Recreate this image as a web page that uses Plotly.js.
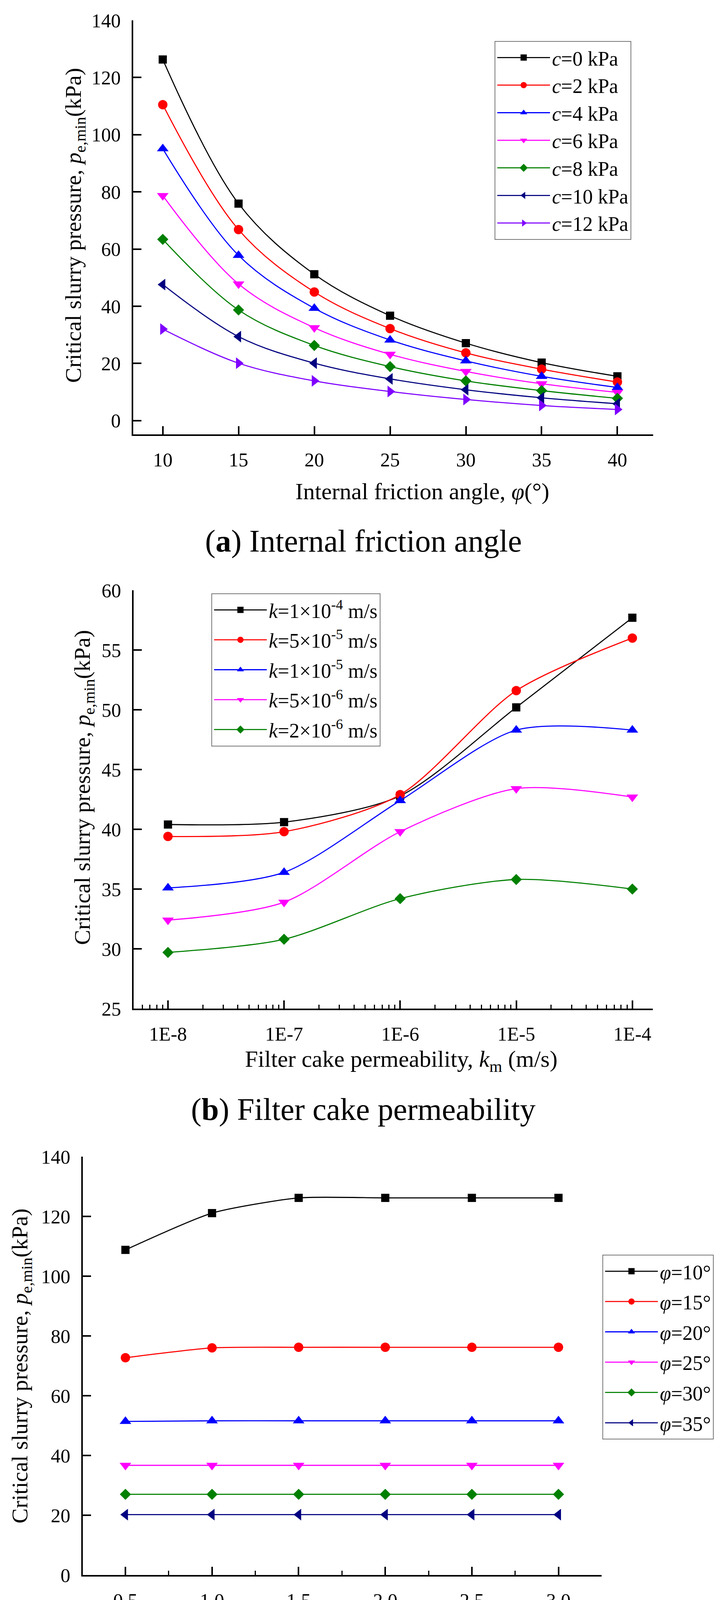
<!DOCTYPE html>
<html>
<head>
<meta charset="utf-8">
<script src="https://cdn.plot.ly/plotly-3.0.1.min.js"></script>
<style>
  html, body { margin: 0; padding: 0; background: #fff; overflow: hidden; }
  #chart { width: 1861px; height: 4356px; }
</style>
</head>
<body>
<div id="chart"></div>
<script>
// ---- data ----
// (a) friction angle vs critical pressure, one array per cohesion value
const phiAngles = [10, 15, 20, 25, 30, 35, 40];
const cNames = ["<i>c</i>=0 kPa", "<i>c</i>=2 kPa", "<i>c</i>=4 kPa", "<i>c</i>=6 kPa",
                "<i>c</i>=8 kPa", "<i>c</i>=10 kPa", "<i>c</i>=12 kPa"];
const pC0  = [126.3, 75.9, 51.2, 36.7, 27.1, 20.3, 15.5];
const pC2  = [110.5, 66.8, 45.0, 32.2, 23.7, 18.0, 13.5];
const pC4  = [95.1, 57.8, 39.3, 28.2, 20.9, 15.5, 11.6];
const pC6  = [78.7, 47.8, 32.5, 23.2, 17.2, 12.9, 9.9];
const pC8  = [63.4, 38.7, 26.3, 18.9, 13.9, 10.5, 7.8];
const pC10 = [47.6, 29.4, 20.1, 14.6, 10.8, 8.0, 5.9];
const pC12 = [32.0, 20.1, 13.9, 10.2, 7.4, 5.3, 3.9];

// (b) filter cake permeability
const kmVals = [1e-8, 1e-7, 1e-6, 1e-5, 1e-4];
const kmTicks = ["1E-8", "1E-7", "1E-6", "1E-5", "1E-4"];
const kNames = ["<i>k</i>=1×10<sup>-4</sup> m/s", "<i>k</i>=5×10<sup>-5</sup> m/s",
                "<i>k</i>=1×10<sup>-5</sup> m/s", "<i>k</i>=5×10<sup>-6</sup> m/s",
                "<i>k</i>=2×10<sup>-6</sup> m/s"];
const pK1e4 = [40.4, 40.6, 42.8, 50.2, 57.7];
const pK5e5 = [39.4, 39.8, 42.9, 51.6, 56.0];
const pK1e5 = [35.1, 36.4, 42.4, 48.3, 48.3];
const pK5e6 = [32.4, 33.9, 39.8, 43.4, 42.7];
const pK2e6 = [29.7, 30.8, 34.2, 35.8, 35.0];

// (c) cover depth ratio
const cdVals = [0.5, 1.0, 1.5, 2.0, 2.5, 3.0];
const cdTicks = ["0.5", "1.0", "1.5", "2.0", "2.5", "3.0"];
const phiNames = ["<i>φ</i>=10°", "<i>φ</i>=15°", "<i>φ</i>=20°",
                  "<i>φ</i>=25°", "<i>φ</i>=30°", "<i>φ</i>=35°"];
const pPhi10 = [108.8, 121.1, 126.2, 126.2, 126.2, 126.2];
const pPhi15 = [72.7, 76.0, 76.2, 76.2, 76.2, 76.2];
const pPhi20 = [51.4, 51.6, 51.6, 51.6, 51.6, 51.6];
const pPhi25 = [36.7, 36.7, 36.7, 36.7, 36.7, 36.7];
const pPhi30 = [27.0, 27.0, 27.0, 27.0, 27.0, 27.0];
const pPhi35 = [20.2, 20.2, 20.2, 20.2, 20.2, 20.2];

// ---- styling ----
const W = 1861, H = 4356;
const fx = (px) => px / W;
const fy = (py) => 1 - py / H;

const colors = ["#000000", "#ff0000", "#0000ff", "#ff00ff", "#008000", "#000080", "#7f00ff"];
const symbols = ["square", "circle", "triangle-up", "triangle-down", "diamond", "triangle-left", "triangle-right"];
const sizes = [21, 24, 26, 26, 22, 26, 26];
const serif = "Liberation Serif, Times New Roman, serif";

const makeTrace = (x, y, i, name, ax, leg, smooth) => {
    return {
        x: x, y: y, name: name,
        type: "scatter", mode: "lines+markers",
        line: {color: colors[i], width: 2.8, shape: "spline", smoothing: smooth},
        marker: {color: colors[i], symbol: symbols[i], size: sizes[i]},
        xaxis: "x" + ax, yaxis: "y" + ax,
        legend: leg, legendgroup: leg + "-" + i
    };
};

const aSeries = [pC0, pC2, pC4, pC6, pC8, pC10, pC12];
const bSeries = [pK1e4, pK5e5, pK1e5, pK5e6, pK2e6];
const cSeries = [pPhi10, pPhi15, pPhi20, pPhi25, pPhi30, pPhi35];

let traces = [];
aSeries.forEach((s, i) => traces.push(makeTrace(phiAngles, s, i, cNames[i], "", "legend", 1)));
bSeries.forEach((s, i) => traces.push(makeTrace(kmVals, s, i, kNames[i], "2", "legend2", 0.8)));
cSeries.forEach((s, i) => traces.push(makeTrace(cdVals, s, i, phiNames[i], "3", "legend3", 0.6)));

const axisBase = {
    showline: true, linecolor: "#000", linewidth: 4,
    ticks: "inside", ticklen: 21, tickwidth: 4, tickcolor: "#000",
    showgrid: false, zeroline: false, mirror: false,
    tickfont: {family: serif, size: 50, color: "#000"},
    ticklabelstandoff: 18
};

// gap: extra px between entries
const legendBase = (x, y, gap) => {
    return {
        x: x, y: y, xanchor: "left", yanchor: "top",
        bgcolor: "#fff", bordercolor: "#777", borderwidth: 2,
        font: {family: serif, size: 52, color: "#000"},
        itemwidth: 135, tracegroupgap: gap, traceorder: "grouped"
    };
};

const ann = (text, x, y, size, angle) => {
    return {
        text: text, x: x, y: y, xref: "paper", yref: "paper",
        xanchor: "center", yanchor: "middle", showarrow: false,
        textangle: angle || 0,
        font: {family: serif, size: size, color: "#000"}
    };
};

const yTitle = "Critical slurry pressure, <i>p</i><sub>e,min</sub>(kPa)";

const layout = {
    width: W, height: H,
    margin: {l: 0, r: 0, t: 0, b: 0},
    paper_bgcolor: "#fff", plot_bgcolor: "#fff",
    showlegend: true,
    // panel (a)
    xaxis: Object.assign({}, axisBase, {
        domain: [fx(341), fx(1672)], anchor: "y",
        range: [8.05, 42.36], tickvals: phiAngles
    }),
    yaxis: Object.assign({}, axisBase, {
        domain: [fy(1112), fy(52)], anchor: "x",
        range: [-4.8, 140], tickvals: [0, 20, 40, 60, 80, 100, 120, 140]
    }),
    // panel (b)
    xaxis2: Object.assign({}, axisBase, {
        domain: [fx(342), fx(1671)], anchor: "y2", type: "log",
        range: [-8.296, -3.824], tickvals: kmVals, ticktext: kmTicks,
        minor: {ticks: "inside", ticklen: 10, tickwidth: 3, tickcolor: "#000", dtick: "D1", showgrid: false}
    }),
    yaxis2: Object.assign({}, axisBase, {
        domain: [fy(2582), fy(1511)], anchor: "x2",
        range: [25, 60], dtick: 5
    }),
    // panel (c)
    xaxis3: Object.assign({}, axisBase, {
        domain: [fx(212), fx(1540)], anchor: "y3",
        range: [0.254, 3.249], tickvals: cdVals, ticktext: cdTicks,
        minor: {ticks: "inside", ticklen: 11, tickwidth: 3, tickcolor: "#000", dtick: 0.25, tick0: 0.25, showgrid: false}
    }),
    yaxis3: Object.assign({}, axisBase, {
        domain: [fy(4032), fy(2961)], anchor: "x3",
        range: [0, 140], dtick: 20
    }),
    legend: legendBase(fx(1266), fy(105), 0),
    legend2: legendBase(fx(541), fy(1519), 6),
    legend3: legendBase(fx(1542), fy(3212), 7),
    annotations: [
        ann(yTitle, fx(192), fy(577), 58, -90),
        ann("Internal friction angle, <i>φ</i>(°)", fx(1081), fy(1258), 60),
        ann("(<b>a</b>) Internal friction angle", fx(930), fy(1385), 80),
        ann(yTitle, fx(214), fy(2016), 58, -90),
        ann("Filter cake permeability, <i>k</i><sub>m</sub> (m/s)", fx(1027), fy(2715), 60),
        ann("(<b>b</b>) Filter cake permeability", fx(930), fy(2840), 80),
        ann(yTitle, fx(54), fy(3497), 58, -90),
        ann("<i>C/D</i>", fx(876), fy(4170), 60),
        ann("(<b>c</b>) <i>C</i>/<i>D</i>", fx(931), fy(4306), 80)
    ]
};

const plotConfig = {responsive: false, displayModeBar: false, staticPlot: true};
Plotly.newPlot("chart", traces, layout, plotConfig);
</script>
</body>
</html>
